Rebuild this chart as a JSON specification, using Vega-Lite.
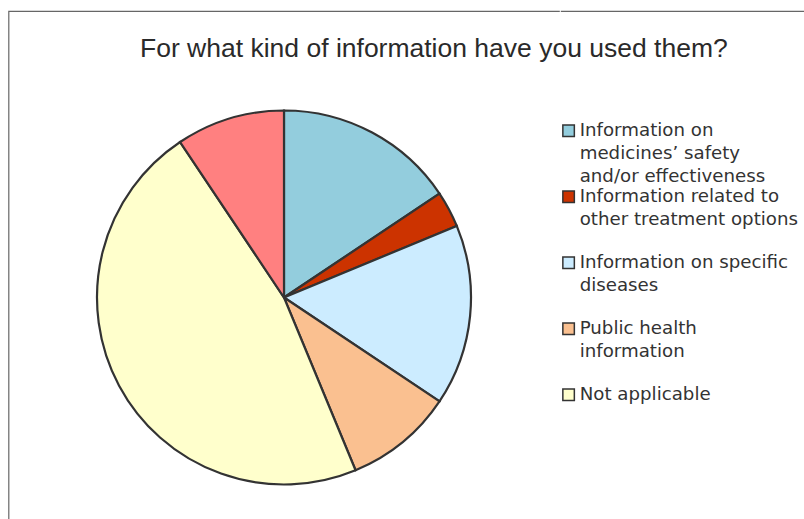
{
  "$schema": "https://vega.github.io/schema/vega-lite/v6.json",
  "padding": {"left": 7.5, "top": 10, "right": 0, "bottom": -64},
  "background": "white",
  "spacing": -9,
  "title": {
    "text": "For what kind of information have you used them?",
    "font": "Liberation Sans",
    "fontSize": 26.5,
    "fontWeight": "normal",
    "color": "#2a2a2a",
    "anchor": "start",
    "frame": "group",
    "dx": 131.5,
    "offset": -52
  },
  "datasets": {
    "answers": [
      {"category": "Information on medicines’ safety and/or effectiveness", "count": 5, "slice": 1},
      {"category": "Information related to other treatment options", "count": 1, "slice": 2},
      {"category": "Information on specific diseases", "count": 5, "slice": 3},
      {"category": "Public health information", "count": 3, "slice": 4},
      {"category": "Not applicable", "count": 15, "slice": 5},
      {"category": "Other", "count": 3, "slice": 6}
    ]
  },
  "hconcat": [
    {
      "width": 551,
      "height": 573,
      "view": {"stroke": "#666666", "strokeWidth": 1.2, "strokeDash": [551, 1124, 573, 1]},
      "data": {"name": "answers"},
      "mark": {"type": "arc", "outerRadius": 187, "stroke": "#333333", "strokeWidth": 2.2},
      "encoding": {
        "theta": {"field": "count", "type": "quantitative", "stack": true},
        "order": {"field": "slice", "type": "quantitative"},
        "color": {
          "field": "category",
          "type": "nominal",
          "scale": {
            "domain": [
              "Information on medicines’ safety and/or effectiveness",
              "Information related to other treatment options",
              "Information on specific diseases",
              "Public health information",
              "Not applicable",
              "Other"
            ],
            "range": ["#93CDDD", "#CC3300", "#CCECFF", "#FAC090", "#FFFFCC", "#FF8080"]
          },
          "legend": {
            "values": [
              "Information on medicines’ safety and/or effectiveness",
              "Information related to other treatment options",
              "Information on specific diseases",
              "Public health information",
              "Not applicable"
            ],
            "title": null,
            "orient": "none",
            "legendX": 551,
            "legendY": 109.7,
            "padding": 0,
            "clipHeight": 65.7,
            "rowPadding": 0,
            "symbolType": "square",
            "symbolSize": 132,
            "symbolStrokeColor": "#333333",
            "symbolStrokeWidth": 1.5,
            "labelFont": "DejaVu Sans",
            "labelFontSize": 18.2,
            "labelColor": "#333333",
            "labelOffset": 2,
            "labelLimit": 400,
            "labelExpr": "datum.label == 'Information on medicines’ safety and/or effectiveness' ? ['Information on', 'medicines’ safety', 'and/or effectiveness'] : datum.label == 'Information related to other treatment options' ? ['Information related to', 'other treatment options'] : datum.label == 'Information on specific diseases' ? ['Information on specific', 'diseases'] : datum.label == 'Public health information' ? ['Public health', 'information'] : datum.label",
            "encode": {
              "labels": {"update": {"lineHeight": {"value": 23}, "y": {"value": 10}}},
              "symbols": {"update": {"y": {"value": 10}}}
            }
          }
        }
      }
    },
    {
      "width": 260,
      "height": 573,
      "view": {"stroke": "#666666", "strokeWidth": 1.2, "strokeDash": [260, 2000]},
      "data": {"values": []},
      "mark": "text",
      "encoding": {}
    }
  ]
}
